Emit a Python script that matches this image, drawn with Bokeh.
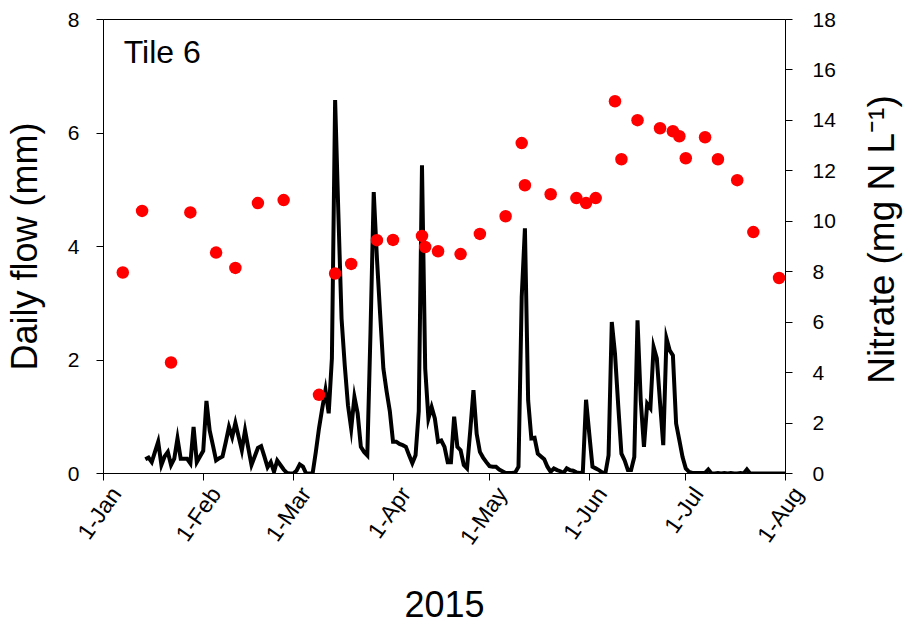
import pandas as pd
from bokeh.plotting import figure
from bokeh.layouts import row
from bokeh.models import (Range1d, LinearAxis, DatetimeAxis, FixedTicker, DatetimeTickFormatter,
                          Label, ColumnDataSource)
from bokeh.core.properties import value
from bokeh.embed import file_html
from bokeh.resources import INLINE
from math import pi

# ---------------- data ----------------
flow_start = "2015-01-14"
flow_mm = [
    0.25, 0.28, 0.20, 0.38, 0.56, 0.15, 0.30, 0.38, 0.15, 0.26,   # Jan 14-23
    0.62, 0.26, 0.26, 0.26, 0.18, 0.82, 0.20, 0.30, 0.40, 1.28,   # Jan 24-Feb 2
    0.76, 0.50, 0.23, 0.27, 0.30, 0.55, 0.82, 0.64, 0.89, 0.65,   # Feb 3-12
    0.41, 0.76, 0.45, 0.15, 0.30, 0.45, 0.48, 0.30, 0.11, 0.20,   # Feb 13-22
    0.03, 0.23, 0.15, 0.07, 0.01, 0.00, 0.00, 0.05, 0.16, 0.12,   # Feb 23-Mar 4
    0.00, 0.00, 0.00, 0.38, 0.80, 1.15, 1.47, 1.06, 2.03, 6.58,   # Mar 5-14
    4.60, 2.73, 1.90, 1.20, 0.79, 1.35, 1.06, 0.47, 0.38, 0.32,   # Mar 15-24
    2.50, 4.96, 3.79, 2.80, 1.85, 1.45, 1.10, 0.56, 0.56, 0.52,   # Mar 25-Apr 3
    0.50, 0.47, 0.32, 0.18, 0.32, 1.10, 5.43, 1.85, 0.97, 1.17,   # Apr 4-13
    0.97, 0.56, 0.58, 0.47, 0.20, 0.20, 1.00, 0.47, 0.41, 0.15,   # Apr 14-23
    0.09, 0.75, 1.47, 0.70, 0.38, 0.28, 0.20, 0.13, 0.12, 0.12,   # Apr 24-May 3
    0.07, 0.04, 0.01, 0.01, 0.01, 0.02, 0.12, 3.11, 4.32, 1.29,   # May 4-13
    0.62, 0.63, 0.35, 0.30, 0.25, 0.12, 0.03, 0.09, 0.06, 0.04,   # May 14-23
    0.01, 0.09, 0.06, 0.05, 0.02, 0.01, 0.02, 1.30, 0.70, 0.12,   # May 24-Jun 2
    0.09, 0.06, 0.02, 0.00, 0.32, 2.67, 2.11, 1.20, 0.35, 0.23,   # Jun 3-12
    0.06, 0.06, 0.29, 2.70, 1.29, 0.47, 1.23, 1.15, 2.23, 2.03,   # Jun 13-22
    1.25, 0.50, 2.38, 2.17, 2.08, 0.88, 0.59, 0.29, 0.09, 0.03,   # Jun 23-Jul 2
    0.01, 0.01, 0.01, 0.01, 0.01, 0.07, 0.00, 0.00, 0.01, 0.00,   # Jul 3-12
    0.01, 0.00, 0.01, 0.00, 0.00, 0.01, 0.00, 0.07, 0.00, 0.00,   # Jul 13-22
    0.00, 0.00, 0.00, 0.00, 0.00, 0.00, 0.00, 0.00, 0.00, 0.00,   # Jul 23-Aug 1
]

nitrate_dates = [
    "2015-01-07", "2015-01-13", "2015-01-22", "2015-01-28", "2015-02-05",
    "2015-02-11", "2015-02-18", "2015-02-26", "2015-03-09", "2015-03-14",
    "2015-03-19", "2015-03-27", "2015-04-01", "2015-04-10", "2015-04-11",
    "2015-04-15", "2015-04-22", "2015-04-28", "2015-05-06", "2015-05-11",
    "2015-05-12", "2015-05-20", "2015-05-28", "2015-05-31", "2015-06-03",
    "2015-06-09", "2015-06-11", "2015-06-16", "2015-06-23", "2015-06-27",
    "2015-06-29", "2015-07-01", "2015-07-07", "2015-07-11", "2015-07-17",
    "2015-07-22", "2015-07-30",
]
nitrate_mgL = [
    7.97, 10.41, 4.40, 10.35, 8.76,
    8.15, 10.72, 10.84, 3.12, 7.93,
    8.31, 9.25, 9.26, 9.42, 8.98,
    8.81, 8.70, 9.50, 10.20, 13.10,
    11.43, 11.07, 10.92, 10.72, 10.92,
    14.76, 12.46, 14.01, 13.69, 13.57,
    13.37, 12.50, 13.33, 12.46, 11.63,
    9.57, 7.75,
]

month_ticks = ["2015-01-01", "2015-02-01", "2015-03-01", "2015-04-01",
               "2015-05-01", "2015-06-01", "2015-07-01", "2015-08-01"]
month_labels = ["1-Jan", "1-Feb", "1-Mar", "1-Apr", "1-May", "1-Jun", "1-Jul", "1-Aug"]
flow_ticks = [0, 2, 4, 6, 8]
nitrate_ticks = [0, 2, 4, 6, 8, 10, 12, 14, 16, 18]

panel_label = "Tile 6"
x_title = "2015"
y_title = "Daily flow (mm)"
y2_title = "Nitrate (mg N L\u207b\u00b9)"

# ---------------- build ----------------
FONT = "Liberation Sans"
LAB_ANGLE = 55 * pi / 180
LAB_SIZE = "23px"

def ms(d):
    return float(pd.Timestamp(d).value // 10**6)

flow_src = ColumnDataSource(dict(
    date=pd.date_range(flow_start, periods=len(flow_mm), freq="D"),
    flow=flow_mm))
nit_src = ColumnDataSource(dict(date=pd.to_datetime(nitrate_dates), nitrate=nitrate_mgL))

P_W, H = 855, 626
FR_L, FR_R, FR_T, FR_B = 102, 785, 19, 473
p = figure(width=P_W, height=H, x_axis_type="datetime",
           output_backend="svg", toolbar_location=None,
           x_range=Range1d(ms(month_ticks[0]), ms(month_ticks[-1])),
           y_range=Range1d(0, 8),
           min_border_left=FR_L, min_border_right=P_W - FR_R,
           min_border_top=FR_T, min_border_bottom=H - FR_B)
p.extra_y_ranges = {"nitrate": Range1d(0, 18)}

p.background_fill_color = "white"
p.border_fill_color = "white"
p.outline_line_color = "black"
p.outline_line_width = 1
p.xgrid.visible = False
p.ygrid.visible = False

tick_ms = [ms(d) for d in month_ticks]
fmt = "1-%b"
def month_fmt():
    return DatetimeTickFormatter(milliseconds=fmt, seconds=fmt, minsec=fmt, minutes=fmt,
                                 hourmin=fmt, hours=fmt, days=fmt, months=fmt, years=fmt)

# main x axis: tick marks only
xa = p.xaxis[0]
xa.ticker = FixedTicker(ticks=tick_ms)
xa.formatter = month_fmt()
xa.major_label_overrides = {t: "" for t in tick_ms}
xa.major_label_standoff = 0

# second x axis: rotated month labels (set a little right of each tick) and the title
shift = 3.8 * 86400000.0
lab_ticks = [t + shift for t in tick_ms]
xa2 = DatetimeAxis(ticker=FixedTicker(ticks=lab_ticks[:-1]), formatter=month_fmt())
xa2.major_label_overrides = {t: lab for t, lab in zip(lab_ticks[:-1], month_labels[:-1])}
xa2.major_label_orientation = LAB_ANGLE
xa2.axis_label = x_title
p.add_layout(xa2, "below")

ya = p.yaxis[0]
ya.ticker = FixedTicker(ticks=flow_ticks)
ya.axis_label = y_title

ya2 = LinearAxis(y_range_name="nitrate", ticker=FixedTicker(ticks=nitrate_ticks))
p.add_layout(ya2, "right")

for ax in (xa, xa2, ya, ya2):
    ax.axis_line_color = "black"
    ax.axis_line_width = 1
    ax.major_tick_line_color = "black"
    ax.major_tick_in = 0
    ax.major_tick_out = 7
    ax.minor_tick_line_color = None
    ax.major_label_text_font = FONT
    ax.major_label_text_font_size = "21px"
    ax.major_label_text_color = "black"
    ax.axis_label_text_font = FONT
    ax.axis_label_text_font_size = "36px"
    ax.axis_label_text_font_style = "normal"
    ax.axis_label_text_color = "black"

LAB_STANDOFF = 9
xa2.axis_line_color = None
xa2.major_tick_line_color = None
xa2.major_tick_out = 0
xa2.major_label_text_font_size = LAB_SIZE
xa2.major_label_standoff = LAB_STANDOFF
xa2.axis_label_standoff = 31

ya.major_label_standoff = 17
ya.axis_label_standoff = 20
ya2.major_label_standoff = 20

p.line("date", "flow", source=flow_src, line_color="black", line_width=4,
       line_join="miter")
p.scatter("date", "nitrate", source=nit_src, y_range_name="nitrate",
          marker="circle", size=12.5, fill_color="#ff0000", line_color=None)

# the last month label sits at the frame's right edge, beyond the axis range
px_per_mm = (FR_B - FR_T) / 8.0
p.text(x=[lab_ticks[-1]], y=[-(7 + LAB_STANDOFF) / px_per_mm], text=[month_labels[-1]],
       angle=LAB_ANGLE, text_align="right", text_baseline="middle",
       text_font=value(FONT), text_font_size=LAB_SIZE, text_color="black",
       level="overlay")

p.add_layout(Label(x=ms("2015-01-07 07:00"), y=7.42, text=panel_label,
                   text_font=FONT, text_font_size="32px", text_color="black",
                   text_baseline="alphabetic", text_align="left"))

# right-hand axis title, reading bottom-to-top, in a narrow strip beside the chart
# (the strip's frame lines up with the chart frame: pixels FR_T..FR_B)
Q_W = 906 - P_W
q = figure(width=Q_W, height=H, output_backend="svg", toolbar_location=None,
           x_range=Range1d(0, Q_W), y_range=Range1d(0, FR_B - FR_T),
           x_axis_location=None, y_axis_location=None,
           min_border=0, min_border_left=0, min_border_right=0,
           min_border_top=0, min_border_bottom=0)
q.outline_line_color = None
q.background_fill_color = "white"
q.border_fill_color = "white"
q.xgrid.visible = False
q.ygrid.visible = False
q.text(x=[26], y=[FR_B - 239], text=[y2_title], angle=pi / 2,
       text_align="center", text_baseline="middle",
       text_font=value(FONT), text_font_size="37px", text_color="black")

layout = row(p, q, spacing=0)
open("out.html", "w").write(file_html(layout, INLINE))
